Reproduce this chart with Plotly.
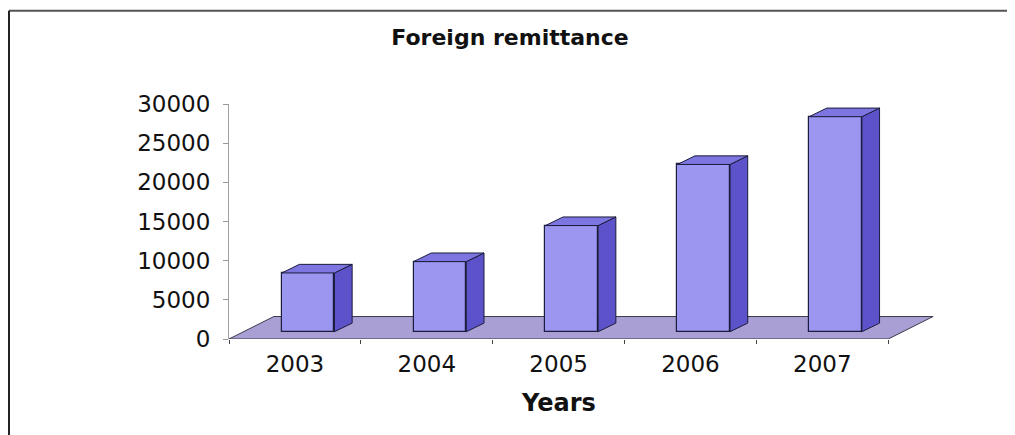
import plotly.graph_objects as go

# data
years = ["2003", "2004", "2005", "2006", "2007"]
remittance = [7500, 8950, 13550, 21350, 27450]
y_ticks = [0, 5000, 10000, 15000, 20000, 25000, 30000]

# fake 3d look (excel style column chart)
pos = list(range(len(years)))
base = 930          # bars stand a bit back on the floor
bar_w = 0.40
shift = 0.10        # bar centre shift to the right of the category
dx, dy = 0.134, 1100      # depth of a bar
fdx, fdy = 0.34, 2870     # depth of the floor

front_col = "#9b96f0"
side_col = "#5c52c9"
top_col = "#7d75e0"
floor_col = "#aa9fd4"
edge = "#1c1c3c"

fig = go.Figure()

# front faces
fig.add_trace(go.Bar(
    x=[p + shift for p in pos], y=remittance, base=base, width=bar_w,
    marker=dict(color=front_col, line=dict(color=edge, width=1.2)),
    hoverinfo="skip", showlegend=False))

# side and top faces
sx, sy, tx, ty = [], [], [], []
for p, v in zip(pos, remittance):
    l = p + shift - bar_w / 2
    r = p + shift + bar_w / 2
    top = base + v
    sx += [r, r + dx, r + dx, r, r, None]
    sy += [base, base + dy, top + dy, top, base, None]
    tx += [l, l + dx, r + dx, r, l, None]
    ty += [top, top + dy, top + dy, top, top, None]

fig.add_trace(go.Scatter(x=sx, y=sy, mode="lines", fill="toself", fillcolor=side_col,
                         line=dict(color=edge, width=1), hoverinfo="skip", showlegend=False))
fig.add_trace(go.Scatter(x=tx, y=ty, mode="lines", fill="toself", fillcolor=top_col,
                         line=dict(color=edge, width=1), hoverinfo="skip", showlegend=False))

# floor
x0, x1 = -0.5, len(years) - 0.5
fig.add_shape(type="path", layer="below", xref="x", yref="y",
              path=f"M {x0},0 L {x1},0 L {x1 + fdx},{fdy} L {x0 + fdx},{fdy} Z",
              fillcolor=floor_col, line=dict(color="#3a3a4a", width=1))

# frame of the picture (top and left only)
fig.add_shape(type="line", xref="paper", yref="paper", x0=-0.309, x1=1.2, y0=1.3965, y1=1.3965,
              line=dict(color="#555555", width=2))
fig.add_shape(type="line", xref="paper", yref="paper", x0=-0.309, x1=-0.309, y0=1.3965, y1=-0.45,
              line=dict(color="#222222", width=2))

fig.add_annotation(text="<b>Years</b>", xref="x", x=2, yref="paper", y=-0.274,
                   yanchor="middle", showarrow=False,
                   font=dict(family="DejaVu Sans", size=24, color="#111111"))

fig.update_layout(
    width=1015, height=435,
    margin=dict(l=221, r=82, t=96, b=104),
    paper_bgcolor="white", plot_bgcolor="white",
    title=dict(text="<b>Foreign remittance</b>", x=0.3947, xref="paper", xanchor="center",
               y=0.933, yanchor="middle",
               font=dict(family="DejaVu Sans", size=22, color="#111111")),
    font=dict(family="DejaVu Sans", color="#111111"),
    bargap=0,
)
fig.update_xaxes(range=[x0, x1 + 0.4], tickvals=pos, ticktext=years, ticks="",
                 showgrid=False, zeroline=False, showline=False,
                 tickfont=dict(size=23), ticklabelstandoff=9,
                 minor=dict(tickvals=[p - 0.5 for p in pos] + [x1], ticks="outside",
                            ticklen=4, tickcolor="#444444", showgrid=False))
fig.update_yaxes(range=[0, 30000], tickvals=y_ticks, ticktext=[str(t) for t in y_ticks],
                 ticks="outside", ticklen=5,
                 tickcolor="#999999", showline=True, linecolor="#a0a0a0", linewidth=1,
                 showgrid=False, zeroline=False, tickfont=dict(size=23), ticklabelstandoff=8)

fig.write_html("out.html")
